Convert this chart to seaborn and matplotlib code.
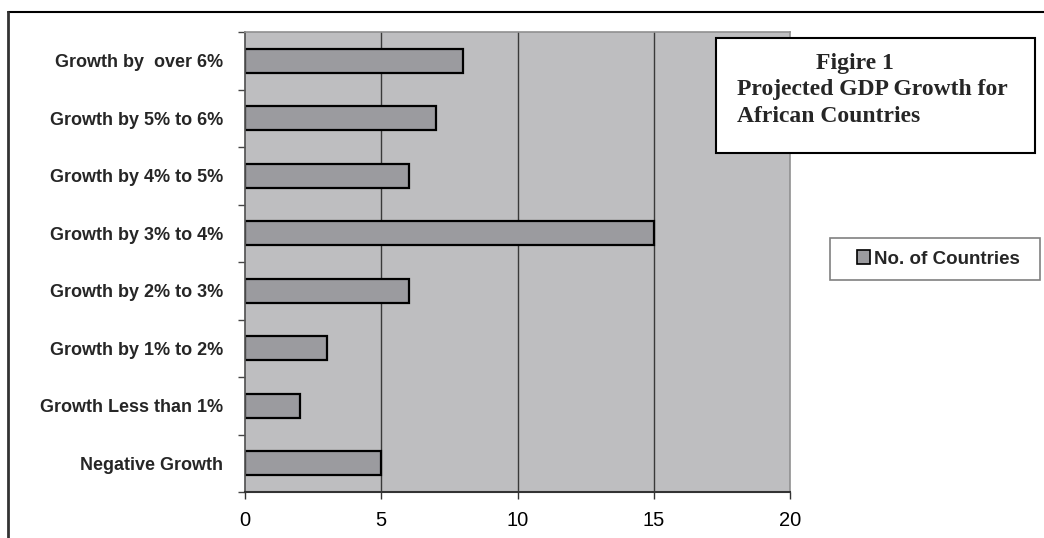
import matplotlib

matplotlib.use("Agg")
import matplotlib.pyplot as plt
import pandas as pd
import seaborn as sb
from matplotlib.lines import Line2D
from matplotlib.patches import Rectangle
from matplotlib.ticker import FixedLocator

categories = [
    "Growth by  over 6%",
    "Growth by 5% to 6%",
    "Growth by 4% to 5%",
    "Growth by 3% to 4%",
    "Growth by 2% to 3%",
    "Growth by 1% to 2%",
    "Growth Less than 1%",
    "Negative Growth",
]
countries = [8, 7, 6, 15, 6, 3, 2, 5]
series_name = "No. of Countries"
title_lines = ["Figire 1", "Projected GDP Growth for", "African Countries"]
x_ticks = [0, 5, 10, 15, 20]

BG = "#bebec0"
BAR = "#9b9b9f"

dset = pd.DataFrame({"category": categories, "count": countries})

sb.set_theme(style="white")
plt.rcParams["font.family"] = ["Liberation Sans", "DejaVu Sans"]

W, H = 1044, 538
fig = plt.figure(figsize=(W / 100, H / 100), dpi=100)
ax = fig.add_axes([245 / W, 1 - 492 / H, 545 / W, 460 / H])
ax.set_facecolor(BG)

sb.barplot(
    data=dset, x="count", y="category", orient="h", color=BAR,
    width=0.42, edgecolor="black", linewidth=1.6, saturation=1,
    label=series_name, ax=ax,
)
handles, labels = ax.get_legend_handles_labels()
if ax.get_legend() is not None:
    ax.get_legend().remove()

ax.set_xlim(0, 20)
ax.set_xticks(x_ticks)
ax.set_xlabel("")
ax.set_ylabel("")
ax.grid(False)
for x in x_ticks[1:-1]:
    ax.axvline(x, color="#3a3a3a", lw=1.0, zorder=0.5)

ax.tick_params(axis="x", bottom=True, length=5, width=1, color="#333333",
               labelsize=14.5, pad=9, labelcolor="black")
ax.tick_params(axis="y", which="major", left=False, labelsize=13, pad=10)
for lab in ax.get_yticklabels():
    lab.set_fontweight("bold")
ax.yaxis.set_minor_locator(FixedLocator([i - 0.5 for i in range(len(categories) + 1)]))
ax.tick_params(axis="y", which="minor", left=True, length=5, width=1, color="#444444")

for side in ["top", "right"]:
    ax.spines[side].set_color("#909090")
    ax.spines[side].set_linewidth(1.2)
ax.spines["left"].set_color("#555555")
ax.spines["bottom"].set_color("#333333")
ax.spines["bottom"].set_linewidth(1.5)

# outer frame (top and left only visible)
fig.add_artist(Line2D([8 / W, 1], [1 - 12 / H] * 2, transform=fig.transFigure, color="black", lw=1.5))
fig.add_artist(Line2D([8 / W] * 2, [0, 1 - 12 / H], transform=fig.transFigure, color="#333333", lw=2))

# title box
fig.add_artist(Rectangle((716 / W, 1 - 153 / H), 319 / W, 115 / H, transform=fig.transFigure,
                         facecolor="white", edgecolor="black", lw=1.5, zorder=5))
serif = ["Liberation Serif", "DejaVu Serif"]
fig.text(855 / W, 1 - 63 / H, title_lines[0], ha="center", va="center", family=serif,
         fontweight="bold", fontsize=17, zorder=6)
for i, line in enumerate(title_lines[1:]):
    fig.text(737 / W, 1 - (90 + 26 * i) / H, line, ha="left", va="center", family=serif,
             fontweight="bold", fontsize=17, zorder=6)

# legend box
fig.add_artist(Rectangle((830 / W, 1 - 280 / H), 210 / W, 42 / H, transform=fig.transFigure,
                         facecolor="white", edgecolor="#808080", lw=1.2, zorder=5))
leg = fig.legend(
    handles, labels, loc="center", bbox_to_anchor=(938 / W, 1 - 259 / H), frameon=False,
    handlelength=0.7, handleheight=0.7, handletextpad=0.2, borderpad=0.2,
    prop={"weight": "bold", "size": 13.5},
)
leg.set_zorder(6)
for h in leg.legend_handles:
    h.set_edgecolor("black")
    h.set_linewidth(1.2)

fig.savefig("out.png", dpi=100)
